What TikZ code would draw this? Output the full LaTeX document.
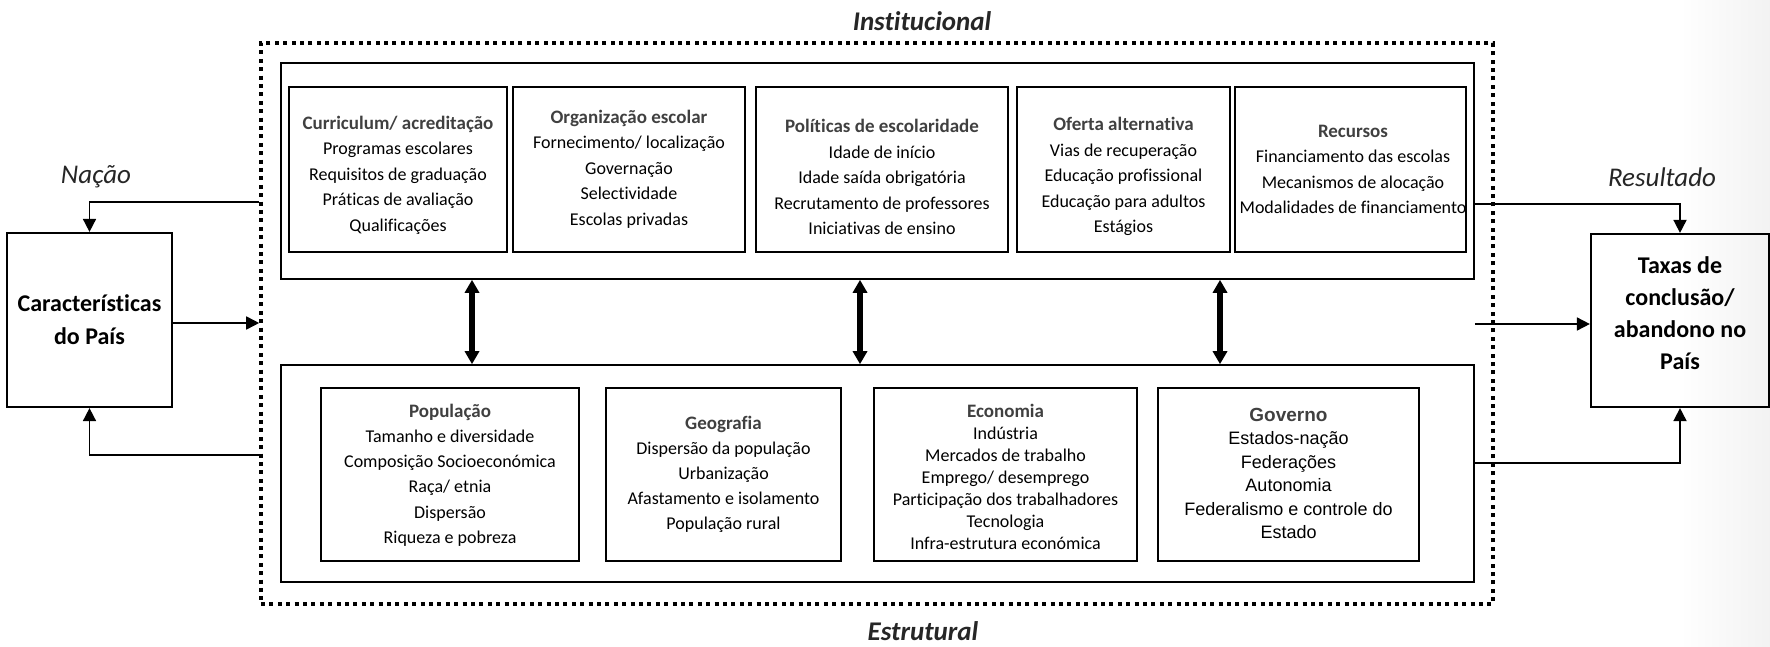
\documentclass[tikz,border=0pt]{standalone}
\usepackage{fontspec}
\setmainfont[Ligatures=NoCommon]{Carlito}
\newfontfamily\arialf{Liberation Sans}
\usetikzlibrary{arrows.meta,calc}
\definecolor{hdr}{RGB}{64,64,64}
\newcommand{\hdtxt}[1]{{\fontsize{9.5}{12.75}\selectfont\bfseries\color{hdr}#1}}
\newcommand{\hdarial}[1]{{\fontsize{9.5}{11.75}\selectfont\bfseries\color{hdr}#1}}
\begin{document}
\begin{tikzpicture}[x=0.5pt,y=-0.5pt,
  dotbox/.style={draw, line width=1.8pt, dash pattern=on 2pt off 2.2pt, inner sep=0pt},
  cont/.style={draw, line width=0.8pt, inner sep=0pt},
  ibox/.style={draw, line width=1.1pt, inner sep=0pt},
  bigbox/.style={draw, line width=1.1pt, inner sep=0pt},
  txt/.style={align=center, inner sep=0pt, font=\fontsize{9}{12.75}\selectfont},
  bigtxt/.style={align=center, inner sep=0pt, font=\fontsize{12}{16.5}\selectfont\bfseries},
  ttl/.style={inner sep=0pt, text=black!85, font=\fontsize{13.5}{16}\selectfont\bfseries\itshape},
  itl/.style={inner sep=0pt, text=black!85, font=\fontsize{13.5}{16}\selectfont\itshape},
  conn/.style={line width=0.85pt, -{Triangle[length=6.5pt,width=6.5pt]}},
  dbl/.style={line width=2.6pt, {Triangle[length=6.5pt,width=7pt]}-{Triangle[length=6.5pt,width=7pt]}}
]
\useasboundingbox (0,0) rectangle (1770,647);
\shade[left color=white, right color=black!5, draw=none] (1680,0) rectangle (1770,647);

% outer dotted frame and containers
\node[dotbox, minimum width=616pt, minimum height=280.5pt] (dot) at (877,323.5) {};
\node[cont, minimum width=596.5pt, minimum height=108pt] (up) at (877.5,171) {};
\node[cont, minimum width=596.5pt, minimum height=108.5pt] (lo) at (877.5,473.5) {};

% titles
\node[ttl] (inst) at (922,21) {Institucional};
\node[ttl] (estr) at (923,631) {Estrutural};
\node[itl] (nac) at (96,177) {Nação};
\node[itl] (res) at (1662,177) {Resultado};

% upper boxes
\node[ibox, minimum width=109pt, minimum height=82.5pt] (cur) at (398,169.5) {};
\node[ibox, minimum width=116pt, minimum height=82.5pt] (org) at (629,169.5) {};
\node[ibox, minimum width=126pt, minimum height=82.5pt] (pol) at (882,169.5) {};
\node[ibox, minimum width=106.5pt, minimum height=82.5pt] (ofe) at (1123.5,169.5) {};
\node[ibox, minimum width=115.5pt, minimum height=82.5pt] (rec) at (1350.5,169.5) {};

\node[txt] (curt) at (398,175) {\hdtxt{Curriculum/ acreditação}\\Programas escolares\\Requisitos de graduação\\Práticas de avaliação\\Qualificações};
\node[txt] (orgt) at (629,169) {\hdtxt{Organização escolar}\\Fornecimento/ localização\\Governação\\Selectividade\\Escolas privadas};
\node[txt] (polt) at (882,177) {\hdtxt{Políticas de escolaridade}\\Idade de início\\Idade saída obrigatória\\Recrutamento de professores\\Iniciativas de ensino};
\node[txt] (ofet) at (1123.5,176.5) {\hdtxt{Oferta alternativa}\\Vias de recuperação\\Educação profissional\\Educação para adultos\\Estágios};
\node[txt] (rect) at (1353,169.5) {\hdtxt{Recursos}\\Financiamento das escolas\\Mecanismos de alocação\\Modalidades de financiamento};

% lower boxes
\node[ibox, minimum width=129pt, minimum height=86.5pt] (pop) at (450,474.5) {};
\node[ibox, minimum width=117.5pt, minimum height=86.5pt] (geo) at (723.5,474.5) {};
\node[ibox, minimum width=131.5pt, minimum height=86.5pt] (eco) at (1005.5,474.5) {};
\node[ibox, minimum width=130.5pt, minimum height=86.5pt] (gov) at (1288.5,474.5) {};

\node[txt, font=\fontsize{9}{12.6}\selectfont] (popt) at (450,475) {\hdtxt{População}\\Tamanho e diversidade\\Composição Socioeconómica\\Raça/ etnia\\Dispersão\\Riqueza e pobreza};
\node[txt, font=\fontsize{9}{12.5}\selectfont] (geot) at (723.5,474) {\hdtxt{Geografia}\\Dispersão da população\\Urbanização\\Afastamento e isolamento\\População rural};
\node[txt, font=\fontsize{9}{11}\selectfont] (ecot) at (1005.5,477) {\hdtxt{Economia}\\Indústria\\Mercados de trabalho\\Emprego/ desemprego\\Participação dos trabalhadores\\Tecnologia\\Infra-estrutura económica};
\node[txt, font=\arialf\fontsize{9}{11.75}\selectfont] (govt) at (1288.5,473.5) {\hdarial{Governo}\\Estados-nação\\Federações\\Autonomia\\Federalismo e controle do\\Estado};

% side boxes
\node[bigbox, minimum width=82.5pt, minimum height=87pt] (cp) at (89.5,320) {};
\node[bigtxt] (cpt) at (89.5,320) {Características\\do País};
\node[bigbox, minimum width=89pt, minimum height=86.5pt] (tx) at (1680,320.5) {};
\node[bigtxt, font=\fontsize{12}{16}\selectfont\bfseries] (txt) at (1680,313) {Taxas de\\conclusão/\\abandono no\\País};

% connectors
\draw[conn] (dot.west |- 0,202) -| (cp.north);
\draw[conn] (dot.west |- 0,455) -| (cp.south);
\draw[conn] (cp.east |- 0,323) -- (dot.west |- 0,323);
\draw[conn] (up.east |- 0,204) -| (tx.north);
\draw[conn] (lo.east |- 0,463) -| (tx.south);
\draw[conn] (up.east |- 0,324) -- (tx.west |- 0,324);

\draw[dbl] (up.south -| 472,0) -- (lo.north -| 472,0);
\draw[dbl] (up.south -| 860,0) -- (lo.north -| 860,0);
\draw[dbl] (up.south -| 1220,0) -- (lo.north -| 1220,0);
\end{tikzpicture}
\end{document}
